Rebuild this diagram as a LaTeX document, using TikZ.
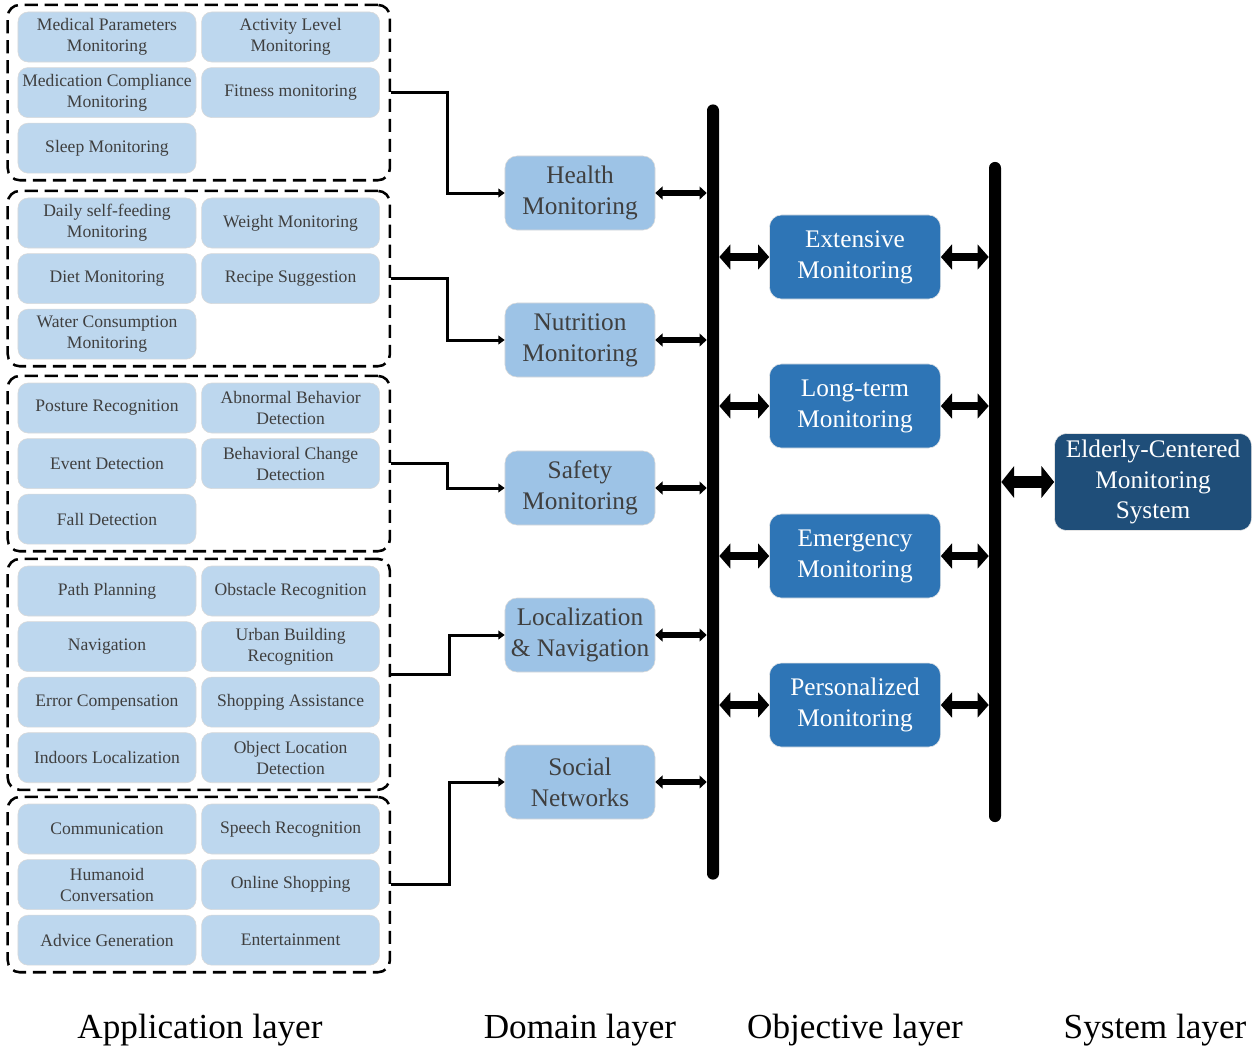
\documentclass[tikz,border=0pt]{standalone}
\usepackage{fontspec}
\setmainfont{Liberation Serif}
\usetikzlibrary{arrows.meta, positioning, fit}

\definecolor{appblue}{HTML}{BDD7EE}
\definecolor{domblue}{HTML}{9DC3E6}
\definecolor{objblue}{HTML}{2E75B6}
\definecolor{sysblue}{HTML}{1F4E79}
\definecolor{txtgray}{HTML}{3F3F3F}

\begin{document}
\begin{tikzpicture}[
    x=0.025cm, y=-0.025cm,
    appbox/.style={draw=black!15, fill=appblue, rounded corners=0.25cm, align=center,
        minimum width=4.45cm, minimum height=1.25cm, inner sep=2pt, text=txtgray,
        font=\fontsize{12.5}{14.9}\selectfont},
    groupbox/.style={draw, line width=1.8pt, dash pattern=on 0.33cm off 0.17cm,
        rounded corners=0.3cm, inner xsep=0.25cm, inner ysep=0.17cm},
    dombox/.style={draw=black!15, fill=domblue, rounded corners=0.3cm, align=center,
        minimum width=3.75cm, minimum height=1.85cm, text=txtgray,
        font=\fontsize{18}{22}\selectfont},
    objbox/.style={draw=black!10, fill=objblue, rounded corners=0.3cm, align=center,
        minimum width=4.275cm, minimum height=2.1cm, text=white,
        font=\fontsize{18}{22}\selectfont},
    sysbox/.style={draw=black!10, fill=sysblue, rounded corners=0.3cm, align=center,
        minimum width=4.925cm, minimum height=2.425cm, text=white,
        font=\fontsize{18}{22}\selectfont},
    bus/.style={fill=black, rounded corners=0.15cm, minimum width=0.3cm, inner sep=0},
    link/.style={line width=0.075cm, -{Triangle[length=0.16cm, width=0.22cm]}},
    domarrow/.style={line width=0.13cm, {Triangle[length=0.18cm, width=0.32cm]}-{Triangle[length=0.18cm, width=0.32cm]}},
    objarrow/.style={line width=0.2cm, {Triangle[length=0.28cm, width=0.62cm]}-{Triangle[length=0.28cm, width=0.62cm]}},
    sysarrow/.style={line width=0.3cm, {Triangle[length=0.32cm, width=0.78cm]}-{Triangle[length=0.32cm, width=0.78cm]}},
    layerlabel/.style={font=\fontsize{25}{29}\selectfont},
]

\useasboundingbox (0,0) rectangle (1253,1052);

% Application layer: health
\node[appbox] (h1) at (107,37) {Medical Parameters\\Monitoring};
\node[appbox, right=0.125cm of h1] (h2) {Activity Level\\Monitoring};
\node[appbox, below=0.125cm of h1] (h3) {Medication Compliance\\Monitoring};
\node[appbox, right=0.125cm of h3] (h4) {Fitness monitoring};
\node[appbox, below=0.125cm of h3] (h5) {Sleep Monitoring};
\node[groupbox, fit=(h1)(h2)(h5)] (g1) {};

% Application layer: nutrition
\node[appbox] (n1) at (107,223) {Daily self-feeding\\Monitoring};
\node[appbox, right=0.125cm of n1] (n2) {Weight Monitoring};
\node[appbox, below=0.125cm of n1] (n3) {Diet Monitoring};
\node[appbox, right=0.125cm of n3] (n4) {Recipe Suggestion};
\node[appbox, below=0.125cm of n3] (n5) {Water Consumption\\Monitoring};
\node[groupbox, fit=(n1)(n2)(n5)] (g2) {};

% Application layer: safety
\node[appbox] (s1) at (107,408) {Posture Recognition};
\node[appbox, right=0.125cm of s1] (s2) {Abnormal Behavior\\Detection};
\node[appbox, below=0.125cm of s1] (s3) {Event Detection};
\node[appbox, right=0.125cm of s3] (s4) {Behavioral Change\\Detection};
\node[appbox, below=0.125cm of s3] (s5) {Fall Detection};
\node[groupbox, fit=(s1)(s2)(s5)] (g3) {};

% Application layer: localization
\node[appbox] (l1) at (107,591) {Path Planning};
\node[appbox, right=0.125cm of l1] (l2) {Obstacle Recognition};
\node[appbox, below=0.125cm of l1] (l3) {Navigation};
\node[appbox, right=0.125cm of l3] (l4) {Urban Building\\Recognition};
\node[appbox, below=0.125cm of l3] (l5) {Error Compensation};
\node[appbox, right=0.125cm of l5] (l6) {Shopping Assistance};
\node[appbox, below=0.125cm of l5] (l7) {Indoors Localization};
\node[appbox, right=0.125cm of l7] (l8) {Object Location\\Detection};
\node[groupbox, fit=(l1)(l2)(l8)] (g4) {};

% Application layer: social
\node[appbox] (c1) at (107,829) {Communication};
\node[appbox, right=0.125cm of c1] (c2) {Speech Recognition};
\node[appbox, below=0.125cm of c1] (c3) {Humanoid\\Conversation};
\node[appbox, right=0.125cm of c3] (c4) {Online Shopping};
\node[appbox, below=0.125cm of c3] (c5) {Advice Generation};
\node[appbox, right=0.125cm of c5] (c6) {Entertainment};
\node[groupbox, fit=(c1)(c2)(c6)] (g5) {};

% Domain layer
\node[dombox] (health) at (580,193) {Health\\Monitoring};
\node[dombox] (nutrition) at (580,340) {Nutrition\\Monitoring};
\node[dombox] (safety) at (580,488) {Safety\\Monitoring};
\node[dombox] (locnav) at (580,635) {Localization\\\& Navigation};
\node[dombox] (social) at (580,782) {Social\\Networks};

% Buses
\node[bus, minimum height=19.375cm] (bus1) at (713,492) {};
\node[bus, minimum height=16.5cm] (bus2) at (995,492) {};

% Objective layer
\node[objbox] (extensive) at (855,257) {Extensive\\Monitoring};
\node[objbox] (longterm) at (855,406) {Long-term\\Monitoring};
\node[objbox] (emergency) at (855,556) {Emergency\\Monitoring};
\node[objbox] (personal) at (855,705) {Personalized\\Monitoring};

% System layer
\node[sysbox] (system) at (1153,482) {Elderly-Centered\\Monitoring\\System};

% Application -> domain
\draw[link] (g1.east) -- ++(56,0) |- (health);
\draw[link] (g2.east) -- ++(56,0) |- (nutrition);
\draw[link] (g3.east) -- ++(56,0) |- (safety);
\draw[link] (g4.east) -- ++(58,0) |- (locnav);
\draw[link] (g5.east) -- ++(58,0) |- (social);

% Domain <-> bus
\draw[domarrow] (health.east) -- (health.east -| bus1.west);
\draw[domarrow] (nutrition.east) -- (nutrition.east -| bus1.west);
\draw[domarrow] (safety.east) -- (safety.east -| bus1.west);
\draw[domarrow] (locnav.east) -- (locnav.east -| bus1.west);
\draw[domarrow] (social.east) -- (social.east -| bus1.west);

% Objective <-> buses
\draw[objarrow] (bus1.east |- extensive.west) -- (extensive.west);
\draw[objarrow] (bus1.east |- longterm.west) -- (longterm.west);
\draw[objarrow] (bus1.east |- emergency.west) -- (emergency.west);
\draw[objarrow] (bus1.east |- personal.west) -- (personal.west);
\draw[objarrow] (extensive.east) -- (extensive.east -| bus2.west);
\draw[objarrow] (longterm.east) -- (longterm.east -| bus2.west);
\draw[objarrow] (emergency.east) -- (emergency.east -| bus2.west);
\draw[objarrow] (personal.east) -- (personal.east -| bus2.west);

% System <-> bus
\draw[sysarrow] (bus2.east |- system.west) -- (system.west);

% Layer labels
\node[layerlabel] (applabel) at (200,1030) {Application layer};
\node[layerlabel] (domlabel) at (580,1030) {Domain layer};
\node[layerlabel] (objlabel) at (855,1030) {Objective layer};
\node[layerlabel] (syslabel) at (1155,1030) {System layer};

\end{tikzpicture}
\end{document}
